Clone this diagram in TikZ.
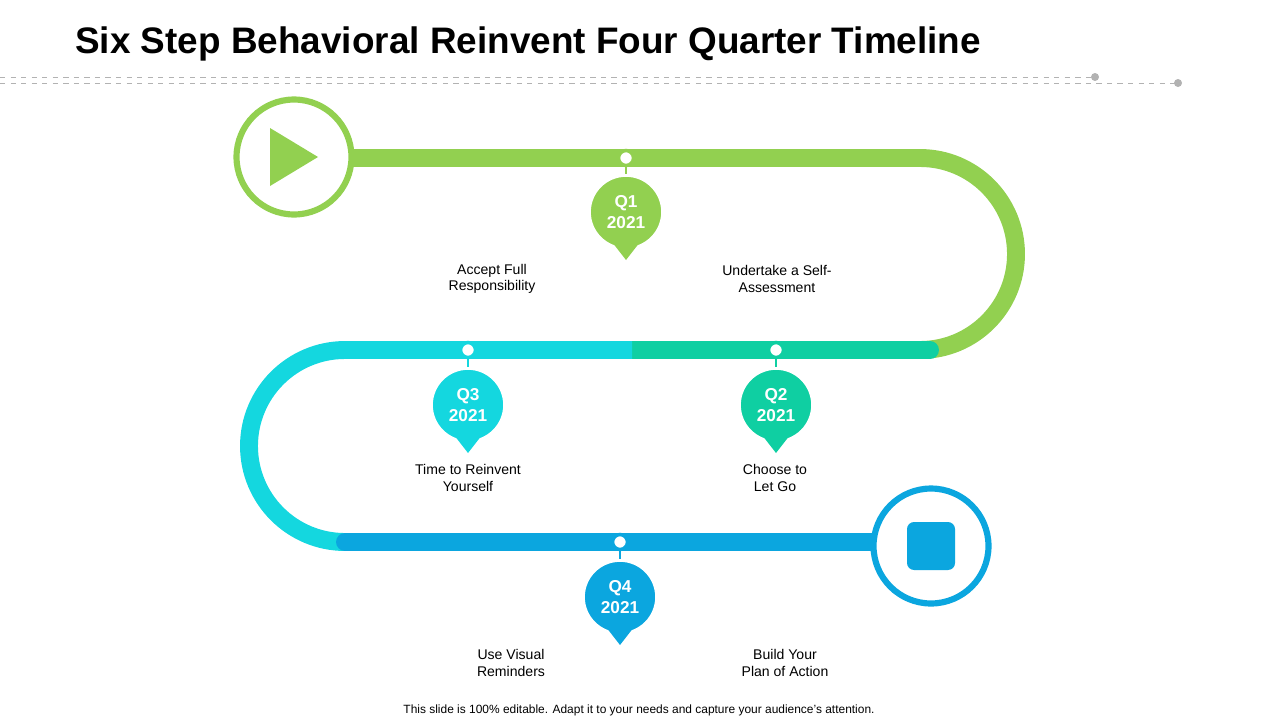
\documentclass[tikz,border=0pt]{standalone}
\usepackage{fontspec}
\setmainfont{Liberation Sans}
\usetikzlibrary{positioning, calc}
\definecolor{qgreen}{HTML}{92D050}
\definecolor{qteal}{HTML}{0FCFA2}
\definecolor{qcyan}{HTML}{14D7DF}
\definecolor{qblue}{HTML}{0BA6DF}
\begin{document}
\begin{tikzpicture}[x=0.02cm, y=-0.02cm,
  track/.style = {line width=10.2pt},
  pin/.style = {circle, fill=#1, draw=white, line width=1.5pt, minimum size=1.46cm, inner sep=0pt, text=white, font=\bfseries\fontsize{9.8}{12}\selectfont, align=center},
  ring/.style = {circle, draw=#1, fill=white, line width=2pt, minimum size=0.3cm, inner sep=0pt},
  lbl/.style = {align=center, font=\fontsize{8}{9.2}\selectfont}
]
\useasboundingbox (0,0) rectangle (1280,720);

%--------------------------------------------------
% Title and rules
%--------------------------------------------------
\node[anchor=west, inner sep=0pt, font=\bfseries\fontsize{21}{24}\selectfont] (title) at (75,44)
  {Six Step Behavioral Reinvent Four Quarter Timeline};
\coordinate (rule1) at (1095,77);
\coordinate (rule2) at (1178,83);
\draw[gray!60, dashed, line width=0.5pt] (0,77) -- (rule1);
\draw[gray!60, dashed, line width=0.5pt] (0,83) -- (rule2);
\fill[gray!60] (rule1) circle (4);
\fill[gray!60] (rule2) circle (4);

%--------------------------------------------------
% Track
%--------------------------------------------------
\draw[track, qgreen] (350,158) -- (920,158) arc[start angle=-90, end angle=90, radius=96];
\draw[track, qteal, line cap=round] (930,350) -- (632,350);
\draw[track, qcyan] (632,350) -- (345,350) arc[start angle=-90, end angle=-270, radius=96];
\draw[track, qcyan, line cap=round] (345,542) -- (346,542);
\draw[track, qblue, line cap=round] (345,542) -- (880,542);

%--------------------------------------------------
% Start and end
%--------------------------------------------------
\node[circle, draw=qgreen, fill=white, line width=3.5pt, minimum size=2.3cm] (start) at (294,157) {};
\fill[qgreen] (270,128) -- (318,157) -- (270,186) -- cycle;
\node[circle, draw=qblue, fill=white, line width=3.5pt, minimum size=2.3cm] (finish) at (931,546) {};
\node[fill=qblue, rounded corners=4pt, minimum size=0.96cm] (stop) at (finish) {};

%--------------------------------------------------
% Quarter pins
%--------------------------------------------------
\foreach \nm/\x/\y/\ty/\col/\q in {q1/626/212/158/qgreen/Q1, q3/468/405/350/qcyan/Q3,
    q2/776/405/350/qteal/Q2, q4/620/597/542/qblue/Q4} {
  \node[pin=\col] (\nm) at (\x,\y) {\q\\2021};
  \fill[\col] (\x-14,\y+30) -- (\x,\y+48) -- (\x+14,\y+30) -- cycle;
  \draw[\col, line width=1.6pt] (\x,\ty) -- (\nm.north);
  \node[ring=\col] (\nm top) at (\x,\ty) {};
}

%--------------------------------------------------
% Step labels
%--------------------------------------------------
\node[lbl] (s1) at (492,279) {Accept Full\\Responsibility};
\node[lbl] (s2) at (777,279) {Undertake a Self-\\Assessment};
\node[lbl] (s3) at (468,478) {Time to Reinvent\\Yourself};
\node[lbl] (s4) at (775,478) {Choose to\\Let Go};
\node[lbl] (s5) at (511,663) {Use Visual\\Reminders};
\node[lbl] (s6) at (785,663) {Build Your\\Plan of Action};

\node[font=\fontsize{6.8}{8}\selectfont] (foot) at (639,710)
  {This slide is 100\% editable. Adapt it to your needs and capture your audience's attention.};
\end{tikzpicture}
\end{document}
